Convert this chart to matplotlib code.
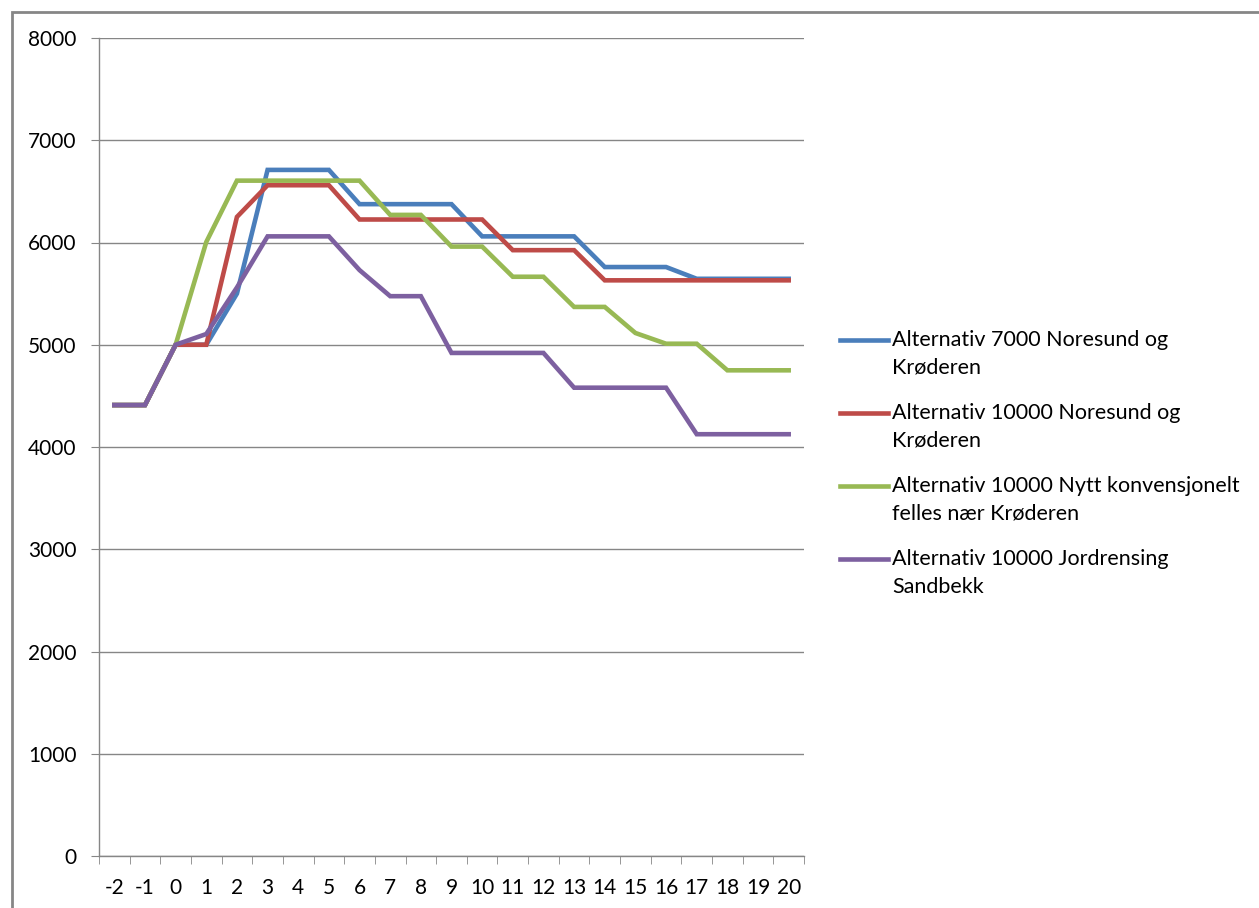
import matplotlib.pyplot as plt
from matplotlib.lines import Line2D
from matplotlib.patches import Rectangle

plt.rcParams['font.family'] = ['Lato', 'DejaVu Sans']

# ---------- data ----------
years = [-2, -1, 0, 1, 2, 3, 4, 5, 6, 7, 8, 9, 10, 11, 12, 13, 14, 15, 16, 17, 18, 19, 20]

alt_7000 = [4410, 4410, 5000, 5000, 5500, 6710, 6710, 6710, 6375, 6375, 6375, 6375,
            6060, 6060, 6060, 6060, 5760, 5760, 5760, 5645, 5645, 5645, 5645]
alt_10000 = [4410, 4410, 5000, 5000, 6250, 6560, 6560, 6560, 6225, 6225, 6225, 6225,
             6225, 5925, 5925, 5925, 5630, 5630, 5630, 5630, 5630, 5630, 5630]
alt_nytt = [4410, 4410, 5000, 6005, 6605, 6605, 6605, 6605, 6605, 6270, 6270, 5960,
            5960, 5665, 5665, 5370, 5370, 5115, 5010, 5010, 4750, 4750, 4750]
alt_jord = [4410, 4410, 5000, 5105, 5560, 6060, 6060, 6060, 5730, 5475, 5475, 4920,
            4920, 4920, 4920, 4580, 4580, 4580, 4580, 4125, 4125, 4125, 4125]

series = [
    (alt_7000, "#4A7EBB", "Alternativ 7000 Noresund og\nKrøderen"),
    (alt_10000, "#BE4B48", "Alternativ 10000 Noresund og\nKrøderen"),
    (alt_nytt, "#98B954", "Alternativ 10000 Nytt konvensjonelt\nfelles nær Krøderen"),
    (alt_jord, "#7D60A0", "Alternativ 10000 Jordrensing\nSandbekk"),
]

W, H = 1259, 908
fig = plt.figure(figsize=(W / 100, H / 100), dpi=100)
ax = fig.add_axes([99 / W, 52 / H, (804 - 99) / W, (856 - 38) / H])

grey = "#868686"
pos = list(range(len(years)))
for vals, col, lab in series:
    ax.plot(pos, vals, color=col, linewidth=3.3, solid_joinstyle='miter', zorder=3)

ax.set_xlim(-0.5, len(years) - 0.5)
ax.set_ylim(0, 8000)
ax.set_yticks(range(0, 8001, 1000))
ax.yaxis.grid(True, color=grey, linewidth=1)
ax.set_axisbelow(True)

ax.set_xticks(pos)
ax.set_xticklabels([str(y) for y in years], fontsize=15)
ax.set_xticks([p - 0.5 for p in pos] + [len(years) - 0.5], minor=True)
ax.tick_params(axis='x', which='major', length=0, pad=16)
ax.tick_params(axis='x', which='minor', length=6, color=grey, direction='out')
ax.tick_params(axis='y', length=6, color=grey, direction='out', labelsize=15, pad=10)

for s in ['top', 'right']:
    ax.spines[s].set_visible(False)
for s in ['left', 'bottom']:
    ax.spines[s].set_color(grey)
    ax.spines[s].set_linewidth(1)

# ---------- legend drawn by hand ----------
y0 = 340
for i, (vals, col, lab) in enumerate(series):
    yy = y0 + i * 73
    fig.add_artist(Line2D([840 / W, 888 / W], [1 - yy / H, 1 - yy / H],
                          color=col, linewidth=3.3, transform=fig.transFigure))
    fig.text(892 / W, 1 - (yy - 10) / H, lab, fontsize=15.5, va='top', ha='left',
             linespacing=1.5)

# outer chart border
fig.add_artist(Rectangle((12 / W, -0.01), 1.1, 1 - 12 / H + 0.01, fill=False,
                         edgecolor=grey, linewidth=2, transform=fig.transFigure))

fig.savefig("out.png", dpi=100)
